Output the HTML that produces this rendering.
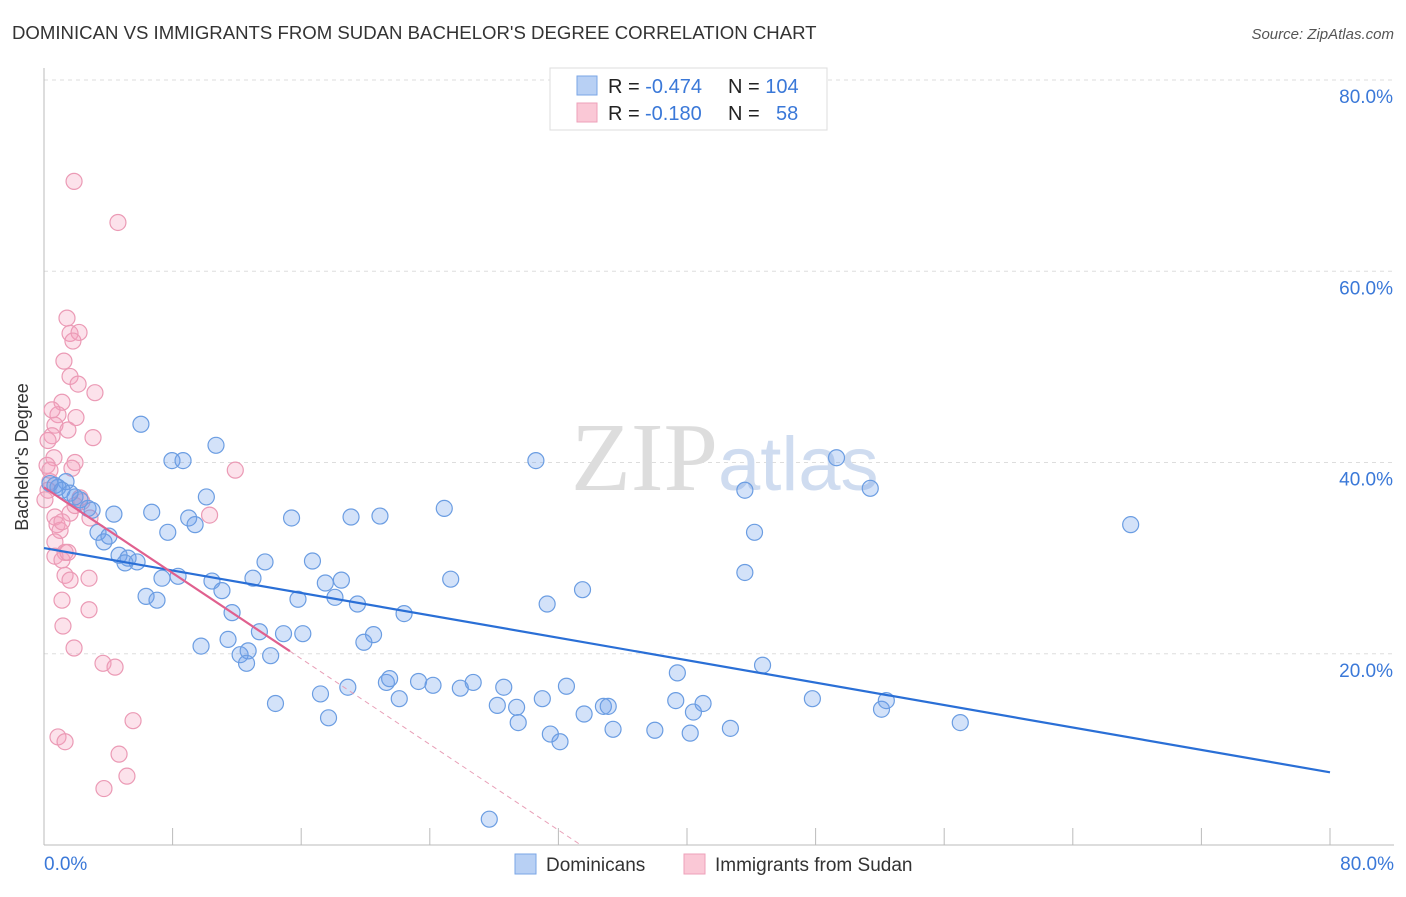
<!DOCTYPE html>
<html><head><meta charset="utf-8"><style>
body{margin:0;background:#fff;font-family:"Liberation Sans",sans-serif}
svg text{font-family:"Liberation Sans",sans-serif}
</style></head><body>
<svg id="chart" width="1406" height="892" viewBox="0 0 1406 892">
<text x="12" y="39" font-size="18.6" fill="#333">DOMINICAN VS IMMIGRANTS FROM SUDAN BACHELOR'S DEGREE CORRELATION CHART</text>
<text x="1394" y="39" font-size="15" fill="#555" font-style="italic" text-anchor="end">Source: ZipAtlas.com</text>
<g id="grid"></g>
<text x="718" y="490" font-size="98" fill="#ddd" text-anchor="end" style="font-family:'Liberation Serif',serif">ZIP</text>
<text x="718" y="490" font-size="76" fill="#cfdcf0">atlas</text>
<line x1="44" y1="68" x2="44" y2="845" stroke="#bbb"/>
<line x1="44" y1="845" x2="1394" y2="845" stroke="#bbb"/>
<g id="ticks"></g>
<text x="28" y="457" font-size="18" fill="#333" text-anchor="middle" transform="rotate(-90 28 457)">Bachelor's Degree</text>
<g id="pink"></g>
<g id="blue"></g>
<g id="lines"></g>
<g>
<rect x="550" y="68" width="277" height="62" fill="#fff" stroke="#ddd"/>
<rect x="577" y="76" width="20" height="19" fill="#b8d0f4" stroke="#7aa6e6"/>
<rect x="577" y="103" width="20" height="19" fill="#fac8d6" stroke="#eea0ba"/>
<text x="608" y="93" font-size="20" fill="#222">R = <tspan fill="#3a78d8">-0.474</tspan></text>
<text x="728" y="93" font-size="20" fill="#222">N = <tspan fill="#3a78d8">104</tspan></text>
<text x="608" y="120" font-size="20" fill="#222">R = <tspan fill="#3a78d8" x="645">-0.180</tspan></text>
<text x="728" y="120" font-size="20" fill="#222">N = <tspan fill="#3a78d8" x="776">58</tspan></text>
</g>
<g>
<rect x="515" y="854" width="21" height="20" fill="#b8d0f4" stroke="#7aa6e6"/>
<text x="546" y="871" font-size="19" fill="#333">Dominicans</text>
<rect x="684" y="854" width="21" height="20" fill="#fac8d6" stroke="#eea0ba"/>
<text x="715" y="871" font-size="19" fill="#333">Immigrants from Sudan</text>
</g>
</svg>
<script>
const yTicks=[20,40,60,80];
const yTickLabels=["20.0%","40.0%","60.0%","80.0%"];
const xTickLabels=["0.0%","80.0%"];
const blueX=[6.03,7.96,8.65,10.7,30.6,49.3,51.4,43.6,67.6,44.2,24.9,10.1,6.7,9.0,9.4,7.7,4.35,15.4,19.1,20.9,3.36,3.73,4.04,4.67,5.23,5.79,5.04,7.34,8.34,13.75,16.7,10.45,11.07,13.0,17.5,18.5,25.3,33.5,31.3,43.6,6.35,7.03,15.8,18.1,19.5,22.4,11.7,13.4,14.9,16.1,20.5,19.9,11.45,9.77,12.2,12.7,12.6,14.1,39.4,44.7,17.2,18.9,14.4,17.7,21.3,21.5,22.1,23.3,24.2,25.9,26.7,28.6,28.2,29.4,29.5,31.0,32.5,33.6,34.8,35.1,35.4,38.0,39.3,40.2,40.4,41.0,42.7,47.8,52.1,52.4,57.0,31.5,32.1,27.7,0.37,0.87,1.37,1.93,2.24,2.74,0.68,1.12,1.62,2.99];
const blueY=[44.0,40.2,40.2,41.8,40.2,40.5,37.3,37.1,33.5,32.7,35.2,36.4,34.8,34.2,33.5,32.7,34.6,34.2,34.3,34.4,32.7,31.7,32.3,30.3,30.0,29.6,29.5,27.9,28.1,29.6,29.7,27.6,26.6,27.9,27.4,27.7,27.8,26.7,25.2,28.5,26.0,25.6,25.7,25.9,25.2,24.2,24.3,22.3,22.1,22.1,22.0,21.2,21.5,20.8,19.9,20.3,19.0,19.8,18.0,18.8,15.8,16.5,14.8,13.3,17.0,17.4,15.3,17.1,16.7,16.4,17.0,16.5,14.6,14.4,12.8,15.3,16.6,13.7,14.5,14.5,12.1,12.0,15.1,11.7,13.9,14.8,12.2,15.3,14.2,15.1,12.8,11.6,10.8,2.7,37.8,37.4,38.0,36.4,36.1,35.2,37.6,37.1,36.8,35.0];
const pinkX=[1.87,4.6,1.43,1.62,2.18,1.8,1.24,1.62,2.12,3.17,1.12,1.99,0.87,0.68,0.5,3.05,0.25,0.62,0.19,1.93,1.74,11.9,0.37,0.25,2.24,2.36,10.3,1.62,0.68,2.86,0.81,1.0,0.68,1.31,0.68,1.12,1.49,1.31,1.62,2.8,1.12,2.8,1.18,1.87,3.67,4.42,5.54,0.87,1.31,4.67,5.16,3.73,1.12,0.37,0.06,1.93,0.5,1.49];
const pinkY=[69.4,65.1,55.1,53.5,53.6,52.7,50.6,49.0,48.2,47.3,46.3,44.7,45.0,43.9,42.8,42.6,42.3,40.5,39.7,40.0,39.4,39.2,38.0,37.1,36.3,35.9,34.5,34.7,34.3,34.2,33.5,32.9,31.7,30.6,30.2,29.8,30.6,28.2,27.7,27.9,25.6,24.6,22.9,20.6,19.0,18.6,13.0,11.3,10.8,9.5,7.2,5.9,33.8,39.2,36.1,35.5,45.5,43.4];
const blueTrend=[31.05,7.6];
const pinkTrend=[37.4,-1.12];
const pinkSolidEnd=15.3;

const X0=44,X1=1330,Y0=845,Y80=80;
const sx=v=>X0+(X1-X0)*v/80;
const sy=v=>Y0-(Y0-Y80)*v/80;
const NS="http://www.w3.org/2000/svg";
function mk(tag,attrs,parent){const e=document.createElementNS(NS,tag);for(const k in attrs)e.setAttribute(k,attrs[k]);parent.appendChild(e);return e;}
const grid=document.getElementById('grid'),ticks=document.getElementById('ticks');
yTicks.forEach((t,i)=>{
  const l=mk('line',{x1:44,x2:1394,y1:sy(t),y2:sy(t),stroke:'#ddd','stroke-dasharray':'4,4'},grid);
  
  
  const tx=mk('text',{x:1393,y:sy(t)+23,'font-size':19,fill:'#3a78d8','text-anchor':'end'},ticks);
  tx.textContent=yTickLabels[i];
  
  
});
for(let i=0;i<=10;i++){
  const l=mk('line',{x1:sx(i*8),x2:sx(i*8),y1:828,y2:845,stroke:'#bbb'},ticks);
  
  
}
const xl0=mk('text',{x:44,y:870,'font-size':19,fill:'#3a78d8'},ticks);xl0.textContent=xTickLabels[0];


const xl1=mk('text',{x:1394,y:870,'font-size':19,fill:'#3a78d8','text-anchor':'end'},ticks);xl1.textContent=xTickLabels[1];


const pg=document.getElementById('pink'),bg=document.getElementById('blue');
pinkX.forEach((x,i)=>{
  const c=mk('circle',{cx:sx(x),cy:sy(pinkY[i]),r:8,fill:'rgba(245,160,190,0.3)',stroke:'#eb9ab5','stroke-width':1.2},pg);
  
  
});
blueX.forEach((x,i)=>{
  const c=mk('circle',{cx:sx(x),cy:sy(blueY[i]),r:8,fill:'rgba(110,160,235,0.3)',stroke:'#6b9de2','stroke-width':1.2},bg);
  
  
});
const lg=document.getElementById('lines');
const bl=mk('line',{x1:sx(0),y1:sy(blueTrend[0]),x2:sx(80),y2:sy(blueTrend[1]),stroke:'#2a6fd6','stroke-width':2.2},lg);


const pz=-pinkTrend[0]/pinkTrend[1];
const pl=mk('line',{x1:sx(0),y1:sy(pinkTrend[0]),x2:sx(pinkSolidEnd),y2:sy(pinkTrend[0]+pinkTrend[1]*pinkSolidEnd),stroke:'#e0608e','stroke-width':2.2},lg);


const pd=mk('line',{x1:sx(pinkSolidEnd),y1:sy(pinkTrend[0]+pinkTrend[1]*pinkSolidEnd),x2:sx(pz),y2:sy(0),stroke:'#e8a0b8','stroke-width':1,'stroke-dasharray':'5,4'},lg);


</script>
</body></html>
